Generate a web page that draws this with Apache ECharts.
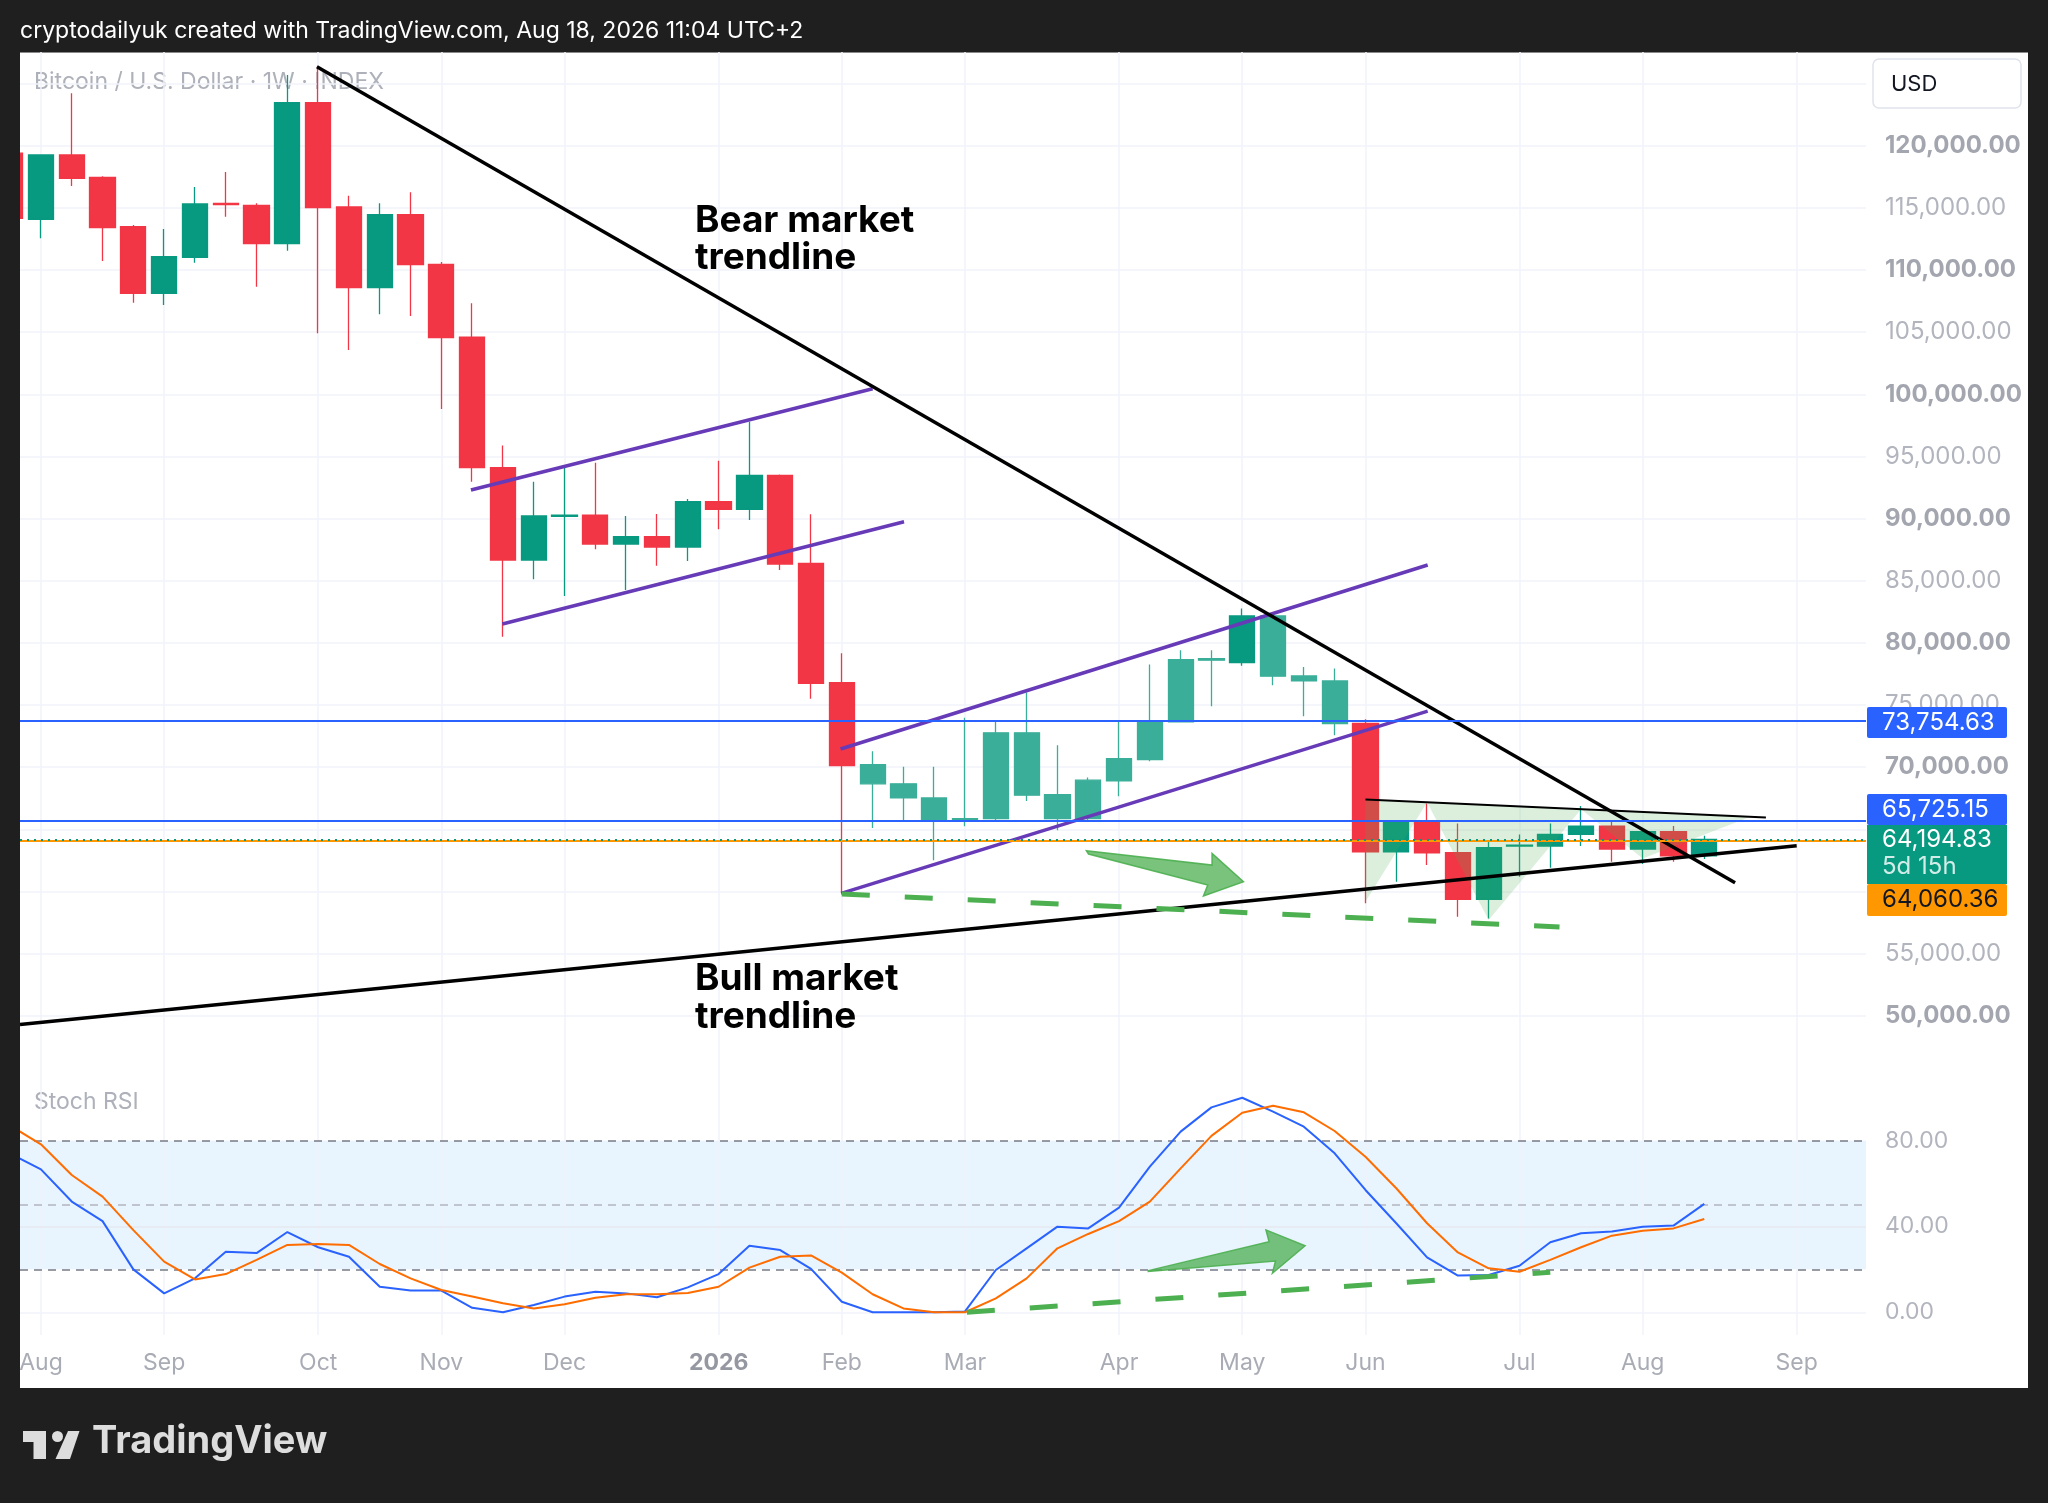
<!DOCTYPE html>
<html>
<head>
<meta charset="utf-8">
<script src="https://cdn.jsdelivr.net/npm/echarts@6.0.0/dist/echarts.min.js"></script>
<style>
html,body{margin:0;padding:0;background:#1f1f1f;width:2048px;height:1503px;overflow:hidden;}
#panel{position:absolute;left:20px;top:52px;width:2008px;height:1336px;background:#ffffff;border-top:1px solid #8a8a8a;box-sizing:border-box;}
#c{position:absolute;left:0;top:0;width:2048px;height:1503px;}
</style>
</head>
<body>
<div id="panel"></div>
<div id="c"></div>
<script>
// ---------- DATA ----------
const FIRST_INDEX = -1; // week index of first entry (2025-07-28); 2025-08-04 = 0
const weeks = ['2025-07-28','2025-08-04','2025-08-11','2025-08-18','2025-08-25','2025-09-01','2025-09-08','2025-09-15','2025-09-22','2025-09-29','2025-10-06','2025-10-13','2025-10-20','2025-10-27','2025-11-03','2025-11-10','2025-11-17','2025-11-24','2025-12-01','2025-12-08','2025-12-15','2025-12-22','2025-12-29','2026-01-05','2026-01-12','2026-01-19','2026-01-26','2026-02-02','2026-02-09','2026-02-16','2026-02-23','2026-03-02','2026-03-09','2026-03-16','2026-03-23','2026-03-30','2026-04-06','2026-04-13','2026-04-20','2026-04-27','2026-05-04','2026-05-11','2026-05-18','2026-05-25','2026-06-01','2026-06-08','2026-06-15','2026-06-22','2026-06-29','2026-07-06','2026-07-13','2026-07-20','2026-07-27','2026-08-03','2026-08-10','2026-08-17'];
const opens  = [119400,114077,119252,117455,113487,108123,111019,115364,115203,112119,123462,115069,108579,114452,110456,104610,94110,86670,90180,90290,87957,88547,87715,91363,90746,93481,86402,76800,70217,68662,67535,65739,65874,72765,67804,65874,68903,70620,73650,78745,78423,82177,77350,76948,73520,63200,65614,63120,59365,63656,63656,64595,65265,63415,64809,62878];
const closes = [114150,119252,117375,113406,108123,111073,115310,115257,112119,123462,115015,108579,114452,110429,104556,94097,86670,90210,90290,87957,88547,87715,91363,90746,93481,86348,76748,70130,68662,67535,65739,65874,72765,67750,65874,68957,70700,73650,78665,78610,82177,77323,76948,73516,63200,65614,63120,59365,63522,63736,64595,65265,63415,64809,62878,64194.83];
const lows   = [113000,112548,116758,110724,107372,107184,110590,114291,108660,111555,104905,103564,106434,106300,98818,92971,80502,85114,83773,87528,84256,86214,86590,89137,89888,85865,75514,59910,65122,65739,62521,65256,65739,67294,64934,65739,67670,70485,73650,74910,78155,76600,74106,72577,59060,60787,62127,57971,57837,61189,61913,63656,62395,62208,62395,62610];
const highs  = [119800,119300,124213,117550,113620,113299,116678,117885,115364,125688,126355,115981,115364,116249,110644,107318,95880,92972,94125,94500,90210,90371,91577,94661,97800,93550,90344,79170,71290,70030,70030,73972,73784,76010,71773,69171,73730,78262,79416,79416,82767,82250,78074,77940,73864,65700,67089,65480,64005,64595,65480,66874,65614,64809,65265,64487];
const lightCandleWeeks = [27,28,29,30,31,32,33,34,35,36,37,38,40,41,42];

const stochK = [74,66.6,51.6,42.5,20,8.8,15.8,28.2,27.6,37.4,30.3,25.9,11.9,10.1,10.1,2.1,0,3.4,7.3,9.6,8.8,7.0,11.6,17.8,31.0,29.0,20.2,4.9,0,0,0,0.4,19.7,29.8,39.9,39.1,48.8,67.9,84.2,95.5,100,93.5,86.5,74.1,57.0,41.5,25.6,17.1,17.4,21.7,32.6,36.8,37.6,39.9,40.4,50.5];
const stochD = [87,78.3,64.0,53.9,38.3,23.6,15.3,17.8,24.4,31.4,31.8,31.4,22.5,15.8,10.4,7.3,4.2,1.8,3.7,6.8,8.4,8.4,9.0,11.9,20.8,25.9,26.5,18.5,8.4,1.8,0,0,6.5,15.8,29.8,36.5,42.5,51.6,67.1,82.2,93.0,96.3,93.2,84.5,72.5,57.8,41.5,27.9,20.5,18.9,24.4,30.3,35.7,38.0,39.1,43.5];

const monthTicks  = [0,4,9,13,17,22,26,30,35,39,43,48,52,57];
const monthLabels = ['Aug','Sep','Oct','Nov','Dec','2026','Feb','Mar','Apr','May','Jun','Jul','Aug','Sep'];

// drawings, in (week index, price)
const bearLine   = [[8.96,126356],[55.0,60700]];
const bullLine   = [[-0.68,49300],[57.0,63690]];
const chan1Upper = [[13.96,92300],[27.0,100450]];
const chan1Lower = [[14.98,81520],[28.02,89750]];
const chan2Upper = [[25.96,71465],[45.02,86267]];
const chan2Lower = [[25.98,59855],[45.02,74520]];
const triTop     = [[43,67410],[56,65962]];
const triFill    = [[43,67410],[55.5,66018],[52,62664],[50,66630],[47,57703],[45,67190],[43,59177]];
const priceDash  = [[26,59800],[49.3,57150]];
const priceArrow = [[33.94,63282],[38.02,62132],[38.02,63073],[39.04,60788],[37.74,59638],[37.88,60523],[34.01,63018]];
const stochDash  = [[30.06,0],[49.0,18.6]];
const stochArrow = [[35.95,19.4],[39.87,32.9],[39.77,38.4],[41.04,31.0],[39.98,18.2],[40.08,23.9],[35.95,19.0]];

const levelBlue1 = 73754.63, levelBlue2 = 65725.15, levelOrange = 64060.36, lastPrice = 64194.83;
const stochBands = [20, 50, 80];
const stochTicks = [0, 40, 80];

// ---------- CHART ----------
const FONT = 'Inter, "Noto Sans", Roboto, sans-serif';
const XMIN = -0.68, XMAX = 59.25;
const UP = '#089981', DOWN = '#F23645', LUP = '#3AAE99', LDOWN = '#F7606B';

function fmt(v, d) {
  const s = Math.abs(v).toFixed(d).split('.');
  s[0] = s[0].replace(/\B(?=(\d{3})+(?!\d))/g, ',');
  return s.join('.');
}

const candleData = opens.map((o, k) => {
  const i = k + FIRST_INDEX;
  const item = { name: weeks[k], value: [i, o, closes[k], lows[k], highs[k]] };
  if (lightCandleWeeks.indexOf(i) >= 0) {
    item.itemStyle = { color: LUP, color0: LDOWN, borderColor: LUP, borderColor0: LDOWN };
  }
  return item;
});
const kData = stochK.map((v, k) => [k + FIRST_INDEX, v]);
const dData = stochD.map((v, k) => [k + FIRST_INDEX, v]);

function lineSeries(pts, color, width, type, xi, z) {
  return { type: 'line', xAxisIndex: xi, yAxisIndex: xi, data: pts, symbol: 'none', silent: true, z: z || 4,
    lineStyle: { color: color, width: width, type: type || 'solid', cap: 'butt' }, animation: false };
}
function polySeries(pts, xi, fill, stroke, z) {
  return { type: 'custom', xAxisIndex: xi, yAxisIndex: xi, data: [[pts[0][0], pts[0][1]]], silent: true, z: z, animation: false,
    renderItem: function (params, api) {
      return { type: 'polygon', shape: { points: pts.map(p => api.coord(p)) },
        style: { fill: fill, stroke: stroke, lineWidth: stroke ? 1.5 : 0 } };
    } };
}
const vGrid = monthTicks.map(v => ({ xAxis: v }));

const chart = echarts.init(document.getElementById('c'), null, { width: 2048, height: 1503 });
const option = {
  backgroundColor: 'transparent',
  animation: false,
  textStyle: { fontFamily: FONT },
  grid: [
    { left: 20, right: 182, top: 52, height: 1026 },
    { left: 20, right: 182, top: 1078, height: 257 }
  ],
  xAxis: [
    { type: 'value', gridIndex: 0, min: XMIN, max: XMAX, show: false, splitLine: { show: false } },
    { type: 'value', gridIndex: 1, min: XMIN, max: XMAX,
      axisLine: { show: false }, axisTick: { show: false, customValues: monthTicks }, splitLine: { show: false },
      axisLabel: { customValues: monthTicks, margin: 17, fontSize: 23, color: '#a9acb5', fontFamily: FONT,
        formatter: function (v) {
          const k = monthTicks.indexOf(Math.round(v));
          if (k < 0) return '';
          return monthLabels[k] === '2026' ? '{b|2026}' : monthLabels[k];
        },
        rich: { b: { fontWeight: 'bold', color: '#9598a1', fontSize: 23, fontFamily: FONT } } } }
  ],
  yAxis: [
    { type: 'value', gridIndex: 0, position: 'right', min: 45000, max: 127540, interval: 5000,
      axisLine: { show: false }, axisTick: { show: false },
      splitLine: { show: true, showMinLine: false, showMaxLine: false, lineStyle: { color: '#f0f3fa', width: 1.5 } },
      axisLabel: { margin: 19, fontSize: 24, fontFamily: FONT, align: 'left',
        formatter: function (v) {
          if (v % 5000 !== 0 || v === 45000 || v === 60000 || v === 65000) return '';
          const s = fmt(v, 2);
          return v % 10000 === 0 ? '{b|' + s + '}' : '{n|' + s + '}';
        },
        rich: { b: { fontWeight: 'bold', color: '#a3a6af', fontSize: 24, fontFamily: FONT },
                n: { color: '#b2b5be', fontSize: 24, fontFamily: FONT } } } },
    { type: 'value', gridIndex: 1, position: 'right', min: -10.6, max: 109.2,
      axisLine: { show: false }, axisTick: { show: false }, splitLine: { show: false }, axisLabel: { show: false } }
  ],
  series: [
    // vertical month grid lines
    { type: 'line', xAxisIndex: 0, yAxisIndex: 0, data: [], silent: true, z: 1,
      markLine: { silent: true, symbol: 'none', z: 1, label: { show: false }, animation: false,
        lineStyle: { color: '#f0f3fa', width: 1.5, type: 'solid' }, data: vGrid } },
    { type: 'line', xAxisIndex: 1, yAxisIndex: 1, data: [], silent: true, z: 1,
      markLine: { silent: true, symbol: 'none', z: 1, label: { show: false }, animation: false,
        lineStyle: { color: '#f0f3fa', width: 1.5, type: 'solid' }, data: vGrid } },
    // candles
    { type: 'candlestick', name: 'BTCUSD', xAxisIndex: 0, yAxisIndex: 0, data: candleData,
      encode: { x: 0, y: [1, 2, 3, 4] }, barWidth: '78%', z: 2, clip: true,
      itemStyle: { color: UP, color0: DOWN, borderColor: UP, borderColor0: DOWN, borderWidth: 1.3 },
      markLine: { silent: true, symbol: 'none', label: { show: false }, animation: false, z: 5,
        data: [
          { yAxis: levelBlue1, lineStyle: { color: '#2962FF', width: 2, type: 'solid' } },
          { yAxis: levelBlue2, lineStyle: { color: '#2962FF', width: 2, type: 'solid' } },
          { yAxis: levelOrange, lineStyle: { color: '#FF9800', width: 2, type: 'solid' } },
          { yAxis: lastPrice, lineStyle: { color: '#089981', width: 2, type: [2, 5] } }
        ] } },
    polySeries(triFill, 0, 'rgba(76,175,80,0.2)', null, 3),
    lineSeries(triTop, '#000000', 2, 'solid', 0, 4),
    lineSeries(chan1Upper, '#673AB7', 3.5, 'solid', 0, 4),
    lineSeries(chan1Lower, '#673AB7', 3.5, 'solid', 0, 4),
    lineSeries(chan2Upper, '#673AB7', 3.5, 'solid', 0, 4),
    lineSeries(chan2Lower, '#673AB7', 3.5, 'solid', 0, 4),
    lineSeries(bearLine, '#000000', 3.5, 'solid', 0, 4),
    lineSeries(bullLine, '#000000', 3.5, 'solid', 0, 4),
    lineSeries(priceDash, '#4CAF50', 5, [28, 35], 0, 4),
    polySeries(priceArrow, 0, 'rgba(76,175,80,0.75)', 'rgba(76,175,80,0.9)', 5),
    // stoch RSI
    { type: 'line', name: 'K', xAxisIndex: 1, yAxisIndex: 1, data: kData, symbol: 'none', z: 4,
      lineStyle: { color: '#2962FF', width: 2 },
      markArea: { silent: true, itemStyle: { color: 'rgba(33,150,243,0.1)' }, data: [[{ yAxis: stochBands[0] }, { yAxis: stochBands[2] }]] },
      markLine: { silent: true, symbol: 'none', animation: false, z: 3,
        label: { show: false },
        data: [
          { yAxis: stochTicks[0], lineStyle: { color: '#f0f3fa', width: 1.5, type: 'solid' },
            label: { show: true, position: 'end', distance: 19, formatter: '0.00', color: '#b2b5be', fontSize: 23, fontFamily: FONT } },
          { yAxis: stochTicks[1], lineStyle: { color: '#e6e9f0', width: 1.5, type: 'solid' },
            label: { show: true, position: 'end', distance: 19, formatter: '40.00', color: '#b2b5be', fontSize: 23, fontFamily: FONT } },
          { yAxis: stochBands[2], lineStyle: { color: '#787b86', width: 1.5, type: [8, 6] },
            label: { show: true, position: 'end', distance: 19, formatter: '80.00', color: '#b2b5be', fontSize: 23, fontFamily: FONT } },
          { yAxis: stochBands[1], lineStyle: { color: '#b2b5be', width: 1.5, type: [8, 6] } },
          { yAxis: stochBands[0], lineStyle: { color: '#787b86', width: 1.5, type: [8, 6] } }
        ] } },
    { type: 'line', name: 'D', xAxisIndex: 1, yAxisIndex: 1, data: dData, symbol: 'none', z: 4,
      lineStyle: { color: '#FF6D00', width: 2 } },
    lineSeries(stochDash, '#4CAF50', 5, [28, 35], 1, 5),
    polySeries(stochArrow, 1, 'rgba(76,175,80,0.75)', 'rgba(76,175,80,0.9)', 5)
  ],
  graphic: [
    // dark left frame edge (hides the part of the first candle outside the plot)
    { type: 'rect', z: 90, shape: { x: 0, y: 40, width: 20, height: 1400 }, style: { fill: '#1f1f1f' } },
    { type: 'text', x: 20, y: 31, z: 100, style: { text: 'cryptodailyuk created with TradingView.com, Aug 18, 2026 11:04 UTC+2',
      fill: '#ffffff', fontSize: 23, fontFamily: FONT, textAlign: 'left', textVerticalAlign: 'middle' } },
    { type: 'text', x: 34, y: 82, z: 0, style: { text: 'Bitcoin / U.S. Dollar · 1W · INDEX',
      fill: '#aeb1ba', fontSize: 23, fontFamily: FONT, textAlign: 'left', textVerticalAlign: 'middle' } },
    { type: 'text', x: 34, y: 1102, z: 0, style: { text: 'Stoch RSI',
      fill: '#aeb1ba', fontSize: 23, fontFamily: FONT, textAlign: 'left', textVerticalAlign: 'middle' } },
    { type: 'text', x: 695, y: 239, z: 50, style: { text: 'Bear market', fill: '#000000', fontSize: 37, fontWeight: 'bold',
      fontFamily: FONT, textAlign: 'left', textVerticalAlign: 'bottom' } },
    { type: 'text', x: 695, y: 276, z: 50, style: { text: 'trendline', fill: '#000000', fontSize: 37, fontWeight: 'bold',
      fontFamily: FONT, textAlign: 'left', textVerticalAlign: 'bottom' } },
    { type: 'text', x: 695, y: 997, z: 50, style: { text: 'Bull market', fill: '#000000', fontSize: 37, fontWeight: 'bold',
      fontFamily: FONT, textAlign: 'left', textVerticalAlign: 'bottom' } },
    { type: 'text', x: 695, y: 1035, z: 50, style: { text: 'trendline', fill: '#000000', fontSize: 37, fontWeight: 'bold',
      fontFamily: FONT, textAlign: 'left', textVerticalAlign: 'bottom' } },
    // USD box
    { type: 'rect', z: 100, shape: { x: 1873, y: 59, width: 148, height: 49, r: 6 }, style: { fill: '#ffffff', stroke: '#e0e3eb', lineWidth: 1.5 } },
    { type: 'text', x: 1891, y: 84, z: 101, style: { text: 'USD', fill: '#131722', fontSize: 22, fontFamily: FONT, textAlign: 'left', textVerticalAlign: 'middle' } },
    // price tags
    { type: 'rect', z: 100, shape: { x: 1867, y: 707, width: 140, height: 31, r: 2 }, style: { fill: '#2962FF' } },
    { type: 'text', x: 1882, y: 723, z: 101, style: { text: fmt(levelBlue1, 2), fill: '#ffffff', fontSize: 24, fontFamily: FONT, textAlign: 'left', textVerticalAlign: 'middle' } },
    { type: 'rect', z: 100, shape: { x: 1867, y: 794, width: 140, height: 31, r: 2 }, style: { fill: '#2962FF' } },
    { type: 'text', x: 1882, y: 810, z: 101, style: { text: fmt(levelBlue2, 2), fill: '#ffffff', fontSize: 24, fontFamily: FONT, textAlign: 'left', textVerticalAlign: 'middle' } },
    { type: 'rect', z: 100, shape: { x: 1867, y: 825, width: 140, height: 59 }, style: { fill: '#089981' } },
    { type: 'text', x: 1882, y: 840, z: 101, style: { text: fmt(lastPrice, 2), fill: '#ffffff', fontSize: 24, fontFamily: FONT, textAlign: 'left', textVerticalAlign: 'middle' } },
    { type: 'text', x: 1882, y: 867, z: 101, style: { text: '5d 15h', fill: 'rgba(255,255,255,0.82)', fontSize: 24, fontFamily: FONT, textAlign: 'left', textVerticalAlign: 'middle' } },
    { type: 'rect', z: 100, shape: { x: 1867, y: 884, width: 140, height: 32, r: 2 }, style: { fill: '#FF9800' } },
    { type: 'text', x: 1882, y: 900, z: 101, style: { text: fmt(levelOrange, 2), fill: '#131722', fontSize: 24, fontFamily: FONT, textAlign: 'left', textVerticalAlign: 'middle' } },
    // TradingView logo
    { type: 'polygon', z: 100, shape: { points: [[23,1431],[46,1431],[46,1459],[33.5,1459],[33.5,1442],[23,1442]] }, style: { fill: '#dddddd' } },
    { type: 'circle', z: 100, shape: { cx: 57.5, cy: 1436.5, r: 5.5 }, style: { fill: '#dddddd' } },
    { type: 'polygon', z: 100, shape: { points: [[68,1431],[79.5,1431],[70,1459],[55.5,1459]] }, style: { fill: '#dddddd' } },
    { type: 'text', x: 92, y: 1461, z: 100, style: { text: 'TradingView', fill: '#dddddd', fontSize: 38, fontWeight: 'bold', fontFamily: FONT, textAlign: 'left', textVerticalAlign: 'bottom' } }
  ]
};
chart.setOption(option);
</script>
</body>
</html>
